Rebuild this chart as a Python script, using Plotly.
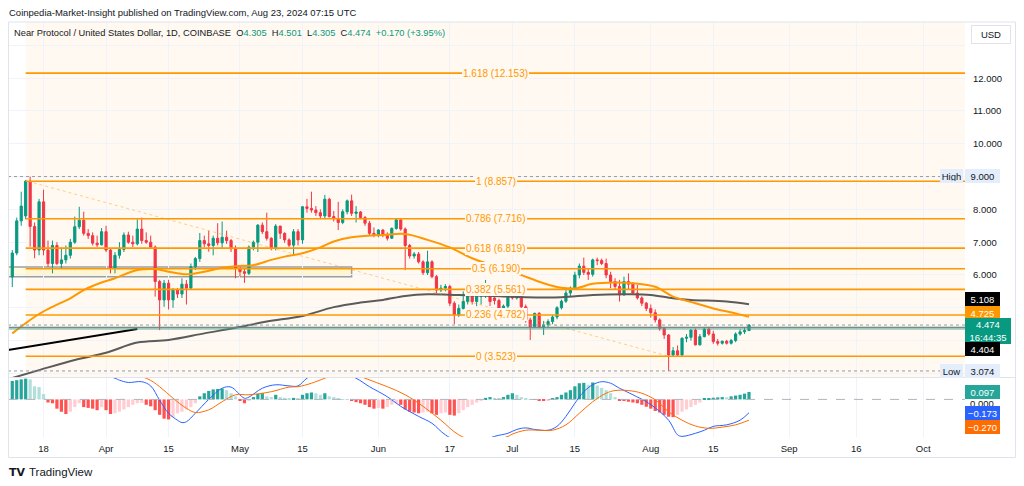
import plotly.graph_objects as go
import pandas as pd

# The page body has an 8px default margin, so the figure is drawn 8px in from the window corner.
OFF = 8
W, H = 1024 - OFF, 486 - OFF
FONT = "Liberation Sans"

# ---------------- data ----------------
start_date = "2024-03-11"
end_date = "2024-08-23"

opens = [5.94, 6.67, 7.65, 7.80, 8.86, 7.48, 6.76, 8.23, 6.76, 6.35, 6.90, 6.35, 6.46, 6.60, 7.00, 7.47, 7.67, 7.27, 7.20, 6.97, 6.92,
         7.32, 6.76, 6.20, 6.60, 6.78, 7.22, 7.00, 6.95, 7.40, 7.05, 7.00, 6.85, 5.80, 5.24, 5.75, 5.24, 5.54, 5.42, 5.72, 5.60,
         6.25, 6.50, 7.05, 6.95, 6.90, 7.12, 6.98, 7.15, 7.05, 6.80,
         6.20, 6.10, 6.05, 6.85, 7.00, 7.52, 7.32, 7.12, 6.81, 7.49, 7.27, 7.07, 6.91, 7.32, 7.07, 8.08, 8.03, 7.98, 7.90, 7.80,
         8.31, 7.78, 7.72, 7.60, 7.93, 8.26, 7.88, 7.92, 7.75, 7.58, 7.27,
         7.22, 7.37, 7.21, 7.12, 7.42, 7.68, 7.40, 6.90, 6.58, 6.64, 6.40, 6.07, 6.40, 5.95, 5.54, 5.60, 5.65, 5.14, 4.78, 4.98,
         5.19, 5.39, 5.19, 5.35, 5.46, 5.50, 5.30, 5.22, 4.98, 5.05,
         5.34, 5.30, 5.54, 5.03, 4.63, 4.42, 4.83, 4.42, 4.48, 4.58, 4.72, 5.00, 5.20, 5.45, 5.60, 6.00, 6.27, 6.08, 6.02, 6.46,
         6.44, 6.35, 6.00, 5.80, 5.65, 5.39, 5.80, 5.72, 5.45, 5.30, 5.14,
         4.98, 4.85, 4.63, 4.37, 4.17, 3.56, 3.69, 3.56, 4.07, 4.10, 4.32, 3.87, 4.12, 4.35, 4.20, 3.97, 3.92, 3.98, 3.92, 4.00,
         4.20, 4.27, 4.305]
highs = [6.76, 7.75, 8.54, 8.90, 9.00, 7.60, 8.32, 8.60, 7.05, 7.05, 7.00, 6.84, 6.90, 7.10, 7.78, 8.08, 7.93, 7.40, 7.30, 7.20, 7.43,
         7.50, 6.80, 6.70, 7.00, 7.30, 7.32, 7.20, 7.70, 7.75, 7.30, 7.20, 6.90, 5.85, 5.85, 5.85, 5.60, 5.60, 5.90, 5.85, 6.35,
         6.55, 7.28, 7.20, 7.35, 7.20, 7.58, 7.63, 7.35, 7.10, 6.90,
         6.30, 6.20, 6.90, 7.05, 7.55, 7.60, 7.90, 7.15, 7.55, 7.50, 7.30, 7.12, 7.40, 7.40, 8.10, 8.32, 8.54, 8.10, 8.00, 8.44,
         8.35, 7.95, 8.23, 8.00, 8.30, 8.45, 8.10, 7.95, 7.80, 7.65, 7.45,
         7.40, 7.40, 7.30, 7.45, 7.72, 7.72, 7.45, 6.95, 6.70, 6.70, 6.45, 6.74, 6.45, 6.00, 5.70, 5.72, 5.70, 5.20, 5.10, 5.50,
         5.55, 5.50, 5.45, 5.60, 5.85, 5.55, 5.35, 5.28, 5.10, 5.40,
         5.50, 5.60, 5.60, 5.10, 4.70, 4.85, 4.87, 4.60, 4.65, 4.78, 5.05, 5.25, 5.55, 5.65, 6.10, 6.35, 6.53, 6.20, 6.50, 6.53,
         6.50, 6.50, 6.10, 5.90, 5.85, 5.95, 6.05, 5.78, 5.70, 5.35, 5.18,
         5.10, 4.95, 4.68, 4.42, 4.20, 3.80, 3.85, 4.10, 4.20, 4.35, 4.37, 4.20, 4.40, 4.42, 4.30, 4.05, 4.00, 4.02, 4.05, 4.25,
         4.35, 4.40, 4.501]
lows = [5.63, 6.60, 7.50, 7.70, 6.86, 6.51, 6.60, 6.60, 6.25, 6.05, 6.30, 6.20, 6.35, 6.50, 6.95, 7.40, 7.20, 7.10, 6.90, 6.85, 6.90,
        6.70, 6.05, 6.05, 6.50, 6.70, 6.95, 6.85, 6.90, 6.95, 6.95, 6.80, 5.34, 4.32, 5.03, 4.95, 5.00, 5.30, 5.30, 5.10, 5.55,
        6.15, 6.40, 6.85, 6.71, 6.60, 6.90, 6.80, 6.95, 6.70, 5.90,
        5.95, 5.76, 6.00, 6.75, 6.70, 7.25, 7.05, 6.75, 6.75, 7.10, 6.98, 6.85, 6.61, 6.90, 6.95, 7.90, 7.90, 7.80, 7.70, 7.70,
        7.75, 7.63, 7.37, 7.55, 7.85, 7.80, 7.60, 7.70, 7.50, 7.20, 7.15,
        7.15, 7.15, 7.05, 7.10, 7.38, 7.35, 6.15, 6.50, 6.50, 6.35, 6.00, 6.00, 5.90, 5.45, 5.48, 5.50, 5.05, 4.50, 4.72, 4.95,
        5.10, 5.10, 5.05, 5.10, 5.30, 5.05, 5.10, 4.90, 4.92, 4.95,
        5.25, 5.25, 4.95, 4.55, 4.02, 4.40, 4.38, 4.17, 4.40, 4.50, 4.65, 4.95, 5.15, 5.35, 5.55, 5.90, 6.00, 5.85, 5.95, 6.30,
        6.30, 5.90, 5.60, 5.55, 5.19, 5.38, 5.55, 5.40, 5.25, 5.05, 4.90,
        4.70, 4.55, 4.30, 4.05, 3.074, 3.50, 3.50, 3.50, 3.95, 4.00, 3.85, 3.85, 4.10, 4.15, 3.90, 3.85, 3.88, 3.88, 3.88, 3.95,
        4.15, 4.20, 4.305]
closes = [6.67, 7.65, 8.10, 8.86, 7.48, 6.76, 8.23, 6.76, 6.35, 6.90, 6.35, 6.46, 6.60, 7.00, 7.47, 7.67, 7.27, 7.20, 6.97, 6.92, 7.32,
          6.76, 6.20, 6.60, 6.78, 7.22, 7.00, 6.95, 7.40, 7.05, 7.00, 6.85, 5.80, 5.24, 5.75, 5.24, 5.54, 5.42, 5.72, 5.60, 6.25,
          6.50, 7.05, 6.95, 6.90, 7.12, 6.98, 7.15, 7.05, 6.80, 6.20,
          6.10, 6.05, 6.85, 7.00, 7.52, 7.32, 7.12, 6.81, 7.49, 7.27, 7.07, 6.91, 7.32, 7.07, 8.08, 8.03, 7.98, 7.90, 7.80, 8.31,
          7.78, 7.72, 7.60, 7.93, 8.26, 7.88, 7.92, 7.75, 7.58, 7.27, 7.22,
          7.37, 7.21, 7.12, 7.42, 7.68, 7.40, 6.90, 6.58, 6.64, 6.40, 6.07, 6.40, 5.95, 5.54, 5.60, 5.65, 5.14, 4.78, 4.98, 5.19,
          5.39, 5.19, 5.35, 5.46, 5.50, 5.19, 5.22, 4.98, 5.05, 5.34,
          5.30, 5.54, 5.03, 4.63, 4.42, 4.83, 4.42, 4.48, 4.58, 4.72, 5.00, 5.20, 5.45, 5.60, 6.00, 6.27, 6.08, 6.02, 6.46, 6.44,
          6.35, 6.00, 5.80, 5.65, 5.39, 5.80, 5.72, 5.45, 5.30, 5.14, 4.98,
          4.85, 4.63, 4.37, 4.17, 3.56, 3.69, 3.56, 4.07, 4.10, 4.32, 3.87, 4.12, 4.35, 4.20, 3.97, 3.92, 3.98, 3.92, 4.00, 4.20,
          4.27, 4.305, 4.474]

macd_hist = [0.24, 0.25, 0.26, 0.27, 0.26, 0.17, 0.16, 0.07, -0.04, -0.05, -0.12, -0.16, -0.19, -0.16, -0.10, -0.05, -0.10, -0.11, -0.12, -0.14, -0.10,
             -0.14, -0.19, -0.18, -0.16, -0.13, -0.10, -0.07, -0.05, -0.045, -0.07, -0.09, -0.14, -0.20, -0.25, -0.26, -0.23, -0.18, -0.16, -0.13, -0.10,
             -0.05, 0.04, 0.08, 0.11, 0.13, 0.135, 0.14, 0.12, 0.08, 0.04,
             -0.02, -0.05, -0.01, 0.03, 0.07, 0.08, 0.04, 0.03, 0.06, 0.03, 0.02, 0.01, 0.02, 0.01, 0.06, 0.08, 0.09, 0.08, 0.06, 0.08,
             0.04, 0.03, 0.01, 0.005, 0.004, -0.02, -0.035, -0.05, -0.07, -0.10, -0.12,
             -0.11, -0.12, -0.10, -0.07, -0.05, -0.07, -0.13, -0.16, -0.17, -0.18, -0.17, -0.16, -0.18, -0.20, -0.18, -0.17, -0.20, -0.21, -0.18, -0.14,
             -0.10, -0.07, -0.04, -0.02, 0.02, 0.03, 0.02, 0.01, 0.03, 0.06,
             0.08, 0.06, 0.03, 0.01, 0.005, -0.005, -0.015, -0.02, -0.01, 0.01, 0.03, 0.06, 0.09, 0.12, 0.17, 0.21, 0.215, 0.19, 0.22, 0.18,
             0.15, 0.12, 0.08, 0.03, -0.01, -0.02, -0.03, -0.04, -0.05, -0.07, -0.095,
             -0.12, -0.15, -0.17, -0.20, -0.225, -0.23, -0.20, -0.16, -0.13, -0.10, -0.07, -0.04, 0.01, 0.017, 0.022, 0.026, 0.03, 0.028, 0.04, 0.05,
             0.06, 0.075, 0.097]

ma50_dates = ["2024-03-11", "2024-03-14", "2024-03-17", "2024-03-20", "2024-03-24", "2024-03-27", "2024-03-31", "2024-04-03",
              "2024-04-08", "2024-04-12", "2024-04-15", "2024-04-19", "2024-04-23", "2024-04-27", "2024-04-30", "2024-05-04",
              "2024-05-08", "2024-05-11", "2024-05-15", "2024-05-19", "2024-05-22", "2024-05-26", "2024-06-02", "2024-06-07",
              "2024-06-12", "2024-06-17", "2024-06-22", "2024-06-27", "2024-07-02", "2024-07-08", "2024-07-12", "2024-07-15",
              "2024-07-19", "2024-07-24", "2024-07-28", "2024-08-02", "2024-08-06", "2024-08-11", "2024-08-15", "2024-08-20",
              "2024-08-23"]
ma50_vals = [4.22, 4.53, 4.81, 5.03, 5.29, 5.54, 5.77, 5.90, 6.15, 6.18, 6.10, 6.02, 6.10, 6.22, 6.27, 6.30, 6.46, 6.56, 6.66,
             6.84, 7.02, 7.15, 7.22, 7.25, 7.07, 6.84, 6.51, 6.27, 6.05, 5.75, 5.61, 5.59, 5.73, 5.77, 5.75, 5.64, 5.34, 5.14,
             4.98, 4.83, 4.725]

ma200_dates = ["2024-03-11", "2024-03-17", "2024-03-25", "2024-04-01", "2024-04-08", "2024-04-15", "2024-04-23", "2024-04-30",
               "2024-05-07", "2024-05-15", "2024-05-22", "2024-05-28", "2024-06-02", "2024-06-07", "2024-06-12", "2024-06-19",
               "2024-06-27", "2024-07-04", "2024-07-12", "2024-07-19", "2024-07-27", "2024-08-01", "2024-08-06", "2024-08-10",
               "2024-08-18", "2024-08-23"]
ma200_vals = [2.86, 3.10, 3.41, 3.63, 3.94, 4.02, 4.22, 4.39, 4.58, 4.75, 5.02, 5.16, 5.24, 5.36, 5.41, 5.39, 5.36, 5.32, 5.32,
              5.39, 5.41, 5.39, 5.29, 5.24, 5.19, 5.108]

macd_dates = ["2024-03-11", "2024-03-25", "2024-04-03", "2024-04-04", "2024-04-06", "2024-04-09", "2024-04-11", "2024-04-13",
              "2024-04-15", "2024-04-17", "2024-04-18", "2024-04-19", "2024-04-21", "2024-04-24", "2024-04-27", "2024-04-29",
              "2024-05-02", "2024-05-03", "2024-05-06", "2024-05-09", "2024-05-12", "2024-05-14", "2024-05-16", "2024-05-21",
              "2024-05-27", "2024-05-30", "2024-06-03", "2024-06-06", "2024-06-10", "2024-06-13", "2024-06-16", "2024-06-21",
              "2024-06-27", "2024-06-30", "2024-07-02", "2024-07-04", "2024-07-06", "2024-07-09", "2024-07-11", "2024-07-13",
              "2024-07-15", "2024-07-17", "2024-07-19", "2024-07-21", "2024-07-23", "2024-07-25", "2024-07-28", "2024-07-31",
              "2024-08-02", "2024-08-05", "2024-08-07", "2024-08-08", "2024-08-11", "2024-08-13", "2024-08-15", "2024-08-18",
              "2024-08-21", "2024-08-23"]
macd_vals = [0.70, 0.45, 0.275, 0.25, 0.22, 0.23, 0.175, -0.01, -0.18, -0.27, -0.30, -0.29, -0.18, 0.0, 0.145, 0.16, 0.015,
             0.03, 0.145, 0.19, 0.175, 0.175, 0.275, 0.42, 0.275, 0.165, 0.035, -0.09, -0.22, -0.31, -0.46, -0.60, -0.48, -0.44,
             -0.39, -0.37, -0.39, -0.40, -0.35, -0.22, -0.05, 0.10, 0.19, 0.23, 0.21, 0.145, 0.06, -0.03, -0.11, -0.27, -0.46,
             -0.48, -0.44, -0.40, -0.35, -0.33, -0.27, -0.173]

signal_dates = ["2024-03-11", "2024-03-30", "2024-04-10", "2024-04-13", "2024-04-16", "2024-04-19", "2024-04-21", "2024-04-24",
                "2024-04-27", "2024-04-30", "2024-05-03", "2024-05-08", "2024-05-12", "2024-05-14", "2024-05-17", "2024-05-20",
                "2024-05-25", "2024-05-29", "2024-06-03", "2024-06-07", "2024-06-11", "2024-06-15", "2024-06-19", "2024-06-24",
                "2024-06-30", "2024-07-01", "2024-07-04", "2024-07-07", "2024-07-10", "2024-07-13", "2024-07-16", "2024-07-19",
                "2024-07-22", "2024-07-24", "2024-07-27", "2024-07-30", "2024-08-02", "2024-08-05", "2024-08-08", "2024-08-11",
                "2024-08-14", "2024-08-17", "2024-08-20", "2024-08-23"]
signal_vals = [0.55, 0.42, 0.275, 0.165, 0.015, -0.115, -0.17, -0.135, -0.03, 0.06, 0.06, 0.10, 0.16, 0.165, 0.21, 0.275, 0.38,
               0.275, 0.165, 0.06, -0.09, -0.27, -0.46, -0.56, -0.48, -0.45, -0.40, -0.40, -0.40, -0.33, -0.18, -0.03, 0.08,
               0.115, 0.115, 0.08, -0.005, -0.16, -0.27, -0.345, -0.375, -0.36, -0.33, -0.27]

fib_prices = [12.153, 8.857, 7.716, 6.819, 6.190, 5.561, 4.782, 3.523]
fib_labels = ["1.618 (12.153)", "1 (8.857)", "0.786 (7.716)", "0.618 (6.819)", "0.5 (6.190)", "0.382 (5.561)",
              "0.236 (4.782)", "0 (3.523)"]

tick_dates = ["2024-03-18", "2024-04-01", "2024-04-15", "2024-05-01", "2024-05-15", "2024-06-01", "2024-06-17",
              "2024-07-01", "2024-07-15", "2024-08-01", "2024-08-15", "2024-09-01", "2024-09-16", "2024-10-01"]
tick_labels = ["18", "Apr", "15", "May", "15", "Jun", "17", "Jul", "15", "Aug", "15", "Sep", "16", "Oct"]

price_ticks = [3, 4, 5, 6, 7, 8, 9, 10, 11, 12, 13]
price_tick_labels = ["", "", "", "6.000", "7.000", "8.000", "", "10.000", "11.000", "12.000", ""]


# ---------------- helpers (window pixel -> paper) ----------------
def fx(p):
    return (p - OFF) / W


def fy(p):
    return 1 - (p - OFF) / H


X_LEFT = "2024-03-10 01:00"
X_RIGHT = "2024-10-10 09:00"
PLOT_L, PLOT_R = 8, 965
MAIN_T, MAIN_B = 22, 377
MACD_T, MACD_B = 378, 437

UP = "#089981"
DOWN = "#F23645"
FIB = "#FF9800"
CREAM = "#FFF9F1"

dates = pd.date_range(start_date, end_date, freq="D")

fig = go.Figure()

fig.add_trace(go.Candlestick(
    x=dates, open=opens, high=highs, low=lows, close=closes,
    xaxis="x", yaxis="y", whiskerwidth=0,
    increasing=dict(line=dict(color=UP, width=1), fillcolor=UP),
    decreasing=dict(line=dict(color=DOWN, width=1), fillcolor=DOWN),
    hoverinfo="skip", showlegend=False))

fig.add_trace(go.Scatter(x=ma200_dates, y=ma200_vals, mode="lines", xaxis="x", yaxis="y",
                         line=dict(color="#5b5b5b", width=2, shape="spline"), hoverinfo="skip"))
fig.add_trace(go.Scatter(x=ma50_dates, y=ma50_vals, mode="lines", xaxis="x", yaxis="y",
                         line=dict(color=FIB, width=2, shape="spline"), hoverinfo="skip"))

# MACD histogram colours (TradingView convention)
hist_colors = []
for i, v in enumerate(macd_hist):
    prev = macd_hist[i - 1] if i > 0 else v
    if v >= 0:
        hist_colors.append("#26A69A" if v >= prev else "#B2DFDB")
    else:
        hist_colors.append("#FF5252" if v <= prev else "#FFCDD2")

fig.add_trace(go.Bar(x=dates, y=macd_hist, xaxis="x2", yaxis="y2", marker=dict(color=hist_colors, line=dict(width=0)),
                     width=0.72 * 86400000, hoverinfo="skip"))
fig.add_trace(go.Scatter(x=macd_dates, y=macd_vals, mode="lines", xaxis="x2", yaxis="y2",
                         line=dict(color="#2962FF", width=1, shape="spline"), hoverinfo="skip"))
fig.add_trace(go.Scatter(x=signal_dates, y=signal_vals, mode="lines", xaxis="x2", yaxis="y2",
                         line=dict(color="#FF6D00", width=1, shape="spline"), hoverinfo="skip"))

shapes = []
# fib background
shapes.append(dict(type="rect", xref="x", yref="y domain", x0="2024-03-14", x1=X_RIGHT, y0=0, y1=1,
                   fillcolor=CREAM, line=dict(width=0), layer="below"))
# fib levels
for p in fib_prices:
    shapes.append(dict(type="line", xref="x", yref="y", x0="2024-03-14", x1=X_RIGHT, y0=p, y1=p,
                       line=dict(color=FIB, width=1.6), layer="above"))
# fib trend (dotted)
shapes.append(dict(type="line", xref="x", yref="y", x0="2024-03-14 12:00", y0=8.857, x1="2024-08-05", y1=3.523,
                   line=dict(color="rgba(255,152,0,0.45)", width=1, dash="dot")))
# yellow rectangle
shapes.append(dict(type="rect", xref="x", yref="y", x0=X_LEFT, x1="2024-05-26", y0=5.95, y1=6.24,
                   fillcolor="rgba(255,235,59,0.18)", line=dict(color="#9e9e9e", width=1.5), layer="below"))
# black trend line
shapes.append(dict(type="line", xref="x", yref="y", x0=X_LEFT, y0=3.71, x1="2024-04-08", y1=4.35,
                   line=dict(color="#000000", width=2)))
# horizontal line 4.404
shapes.append(dict(type="line", xref="paper", yref="y", x0=fx(PLOT_L), x1=fx(PLOT_R), y0=4.38, y1=4.38,
                   line=dict(color="rgba(76,160,140,0.55)", width=3)))
shapes.append(dict(type="line", xref="paper", yref="y", x0=fx(PLOT_L), x1=fx(PLOT_R), y0=4.404, y1=4.404,
                   line=dict(color="#787b86", width=1)))
# last price dotted
shapes.append(dict(type="line", xref="paper", yref="y", x0=fx(PLOT_L), x1=fx(PLOT_R), y0=4.474, y1=4.474,
                   line=dict(color="#8aa8a2", width=1, dash="dot")))
# high / low dotted
for p in (9.0, 3.074):
    shapes.append(dict(type="line", xref="paper", yref="y", x0=fx(PLOT_L), x1=fx(940), y0=p, y1=p,
                       line=dict(color="#9598A1", width=1, dash="dot")))
# macd zero line
shapes.append(dict(type="line", xref="paper", yref="y2", x0=fx(PLOT_L), x1=fx(PLOT_R), y0=0, y1=0,
                   line=dict(color="#B2B5BE", width=1, dash="dash")))
# pane separator and outer border
shapes.append(dict(type="line", xref="paper", yref="paper", x0=fx(PLOT_L), x1=fx(1016), y0=fy(377.5), y1=fy(377.5),
                   line=dict(color="#E0E3EB", width=1)))
shapes.append(dict(type="rect", xref="paper", yref="paper", x0=fx(8.5), x1=fx(1015.5), y0=fy(457.5), y1=fy(22),
                   line=dict(color="#E0E3EB", width=1)))

ann = []
# header texts
ann.append(dict(x=fx(8), y=fy(12), xref="paper", yref="paper", xanchor="left", yanchor="middle", showarrow=False,
                text="Coinpedia-Market-Insight published on TradingView.com, Aug 23, 2024 07:15 UTC",
                borderpad=0, font=dict(size=9.5, color="#131722")))
g = "color:#089981"
ann.append(dict(x=fx(13), y=fy(33), xref="paper", yref="paper", xanchor="left", yanchor="middle", showarrow=False,
                text=("Near Protocol / United States Dollar, 1D, COINBASE  O<span style='%s'>4.305</span>  "
                      "H<span style='%s'>4.501</span>  L<span style='%s'>4.305</span>  C<span style='%s'>4.474</span>  "
                      "<span style='%s'>+0.170 (+3.95%%)</span>") % (g, g, g, g, g),
                borderpad=0, font=dict(size=9.3, color="#131722")))
# fib labels
for p, t in zip(fib_prices, fib_labels):
    ann.append(dict(x="2024-06-27 07:00", y=p, xref="x", yref="y", xanchor="center", yanchor="middle",
                    showarrow=False, text=t, bgcolor=CREAM, borderpad=1, borderwidth=0,
                    font=dict(size=10, color=FIB)))


def box(text, xl, yc, w, h, bg, fg="#ffffff"):
    ann.append(dict(x=fx(xl), y=fy(yc), xref="paper", yref="paper", xanchor="left", yanchor="middle",
                    showarrow=False, text=text, width=w, height=h, bgcolor=bg, borderwidth=0, borderpad=2,
                    align="center", font=dict(size=9.5, color=fg)))


# USD button
ann.append(dict(x=fx(991), y=fy(34.5), xref="paper", yref="paper", xanchor="center", yanchor="middle",
                showarrow=False, text="USD", width=34, height=13,
                bgcolor="#ffffff", bordercolor="#E0E3EB", borderwidth=1, borderpad=2,
                font=dict(size=9.5, color="#131722")))
box("High", 940, 176, 19, 10, "#E3EDFC", "#131722")
box("9.000", 965, 176, 31, 10, "#E3EDFC", "#131722")
box("5.108", 965, 298.5, 31, 10, "#000000")
box("4.725", 965, 312.5, 31, 10, "#FF9800")
box("4.474<br>16:44:35", 965, 331, 42, 22, UP)
box("4.404", 965, 348.5, 31, 10, "#000000")
box("Low", 940, 370.5, 19, 10, "#E3EDFC", "#131722")
box("3.074", 965, 370.5, 31, 10, "#E3EDFC", "#131722")
ann.append(dict(x=fx(982), y=fy(403), xref="paper", yref="paper", xanchor="center", yanchor="middle",
                showarrow=False, text="0.000", font=dict(size=9.5, color="#131722")))
box("0.097", 965, 392, 31, 10, "#26A69A")
box("\u22120.173", 965, 412.5, 31, 10, "#2962FF")
box("\u22120.270", 965, 426.5, 31, 10, "#FF6D00")
# TradingView logo
ann.append(dict(x=fx(8), y=fy(472), xref="paper", yref="paper", xanchor="left", yanchor="middle", showarrow=False,
                text="<b>TV</b>", borderpad=0, font=dict(size=11, color="#131722", family="DejaVu Sans")))
ann.append(dict(x=fx(28), y=fy(472), xref="paper", yref="paper", xanchor="left", yanchor="middle", showarrow=False,
                text="TradingView", borderpad=0, font=dict(size=11.5, color="#131722")))

grid = "#F0F3FA"
fig.update_layout(
    width=W, height=H, margin=dict(l=0, r=0, t=0, b=0, autoexpand=False),
    paper_bgcolor="#ffffff", plot_bgcolor="#ffffff", showlegend=False,
    font=dict(family=FONT, size=10, color="#131722"),
    xaxis=dict(domain=[fx(PLOT_L), fx(PLOT_R)], range=[X_LEFT, X_RIGHT], anchor="y", type="date",
               tickvals=tick_dates, showticklabels=False, showgrid=True, gridcolor=grid, zeroline=False,
               rangeslider=dict(visible=False), showline=False, ticks=""),
    yaxis=dict(domain=[fy(MAIN_B), fy(MAIN_T)], range=[2.890, 13.713], side="right", anchor="x",
               tickvals=price_ticks, ticktext=price_tick_labels, showgrid=True, gridcolor=grid, zeroline=False,
               ticks="", ticklabelstandoff=7, tickfont=dict(size=9.5, color="#131722")),
    xaxis2=dict(domain=[fx(PLOT_L), fx(PLOT_R)], range=[X_LEFT, X_RIGHT], anchor="y2", type="date",
                tickvals=tick_dates, ticktext=tick_labels, showgrid=True, gridcolor=grid, zeroline=False,
                ticks="", tickfont=dict(size=9.5, color="#131722"), ticklabelstandoff=4),
    yaxis2=dict(domain=[fy(MACD_B), fy(MACD_T)], range=[-0.488, 0.278], side="right", anchor="x2",
                showticklabels=False, showgrid=False, zeroline=False),
    shapes=shapes, annotations=ann,
)

fig.write_html("out.html")
